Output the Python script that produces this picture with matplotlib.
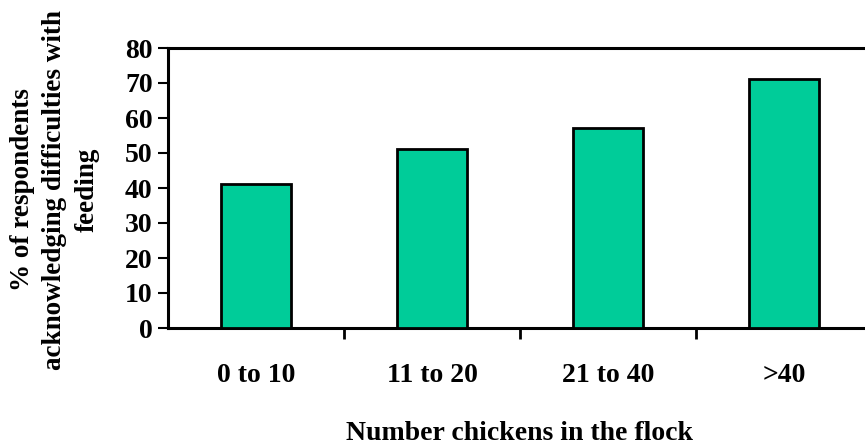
import matplotlib
matplotlib.use("Agg")
import matplotlib.pyplot as plt

categories = ["0 to 10", "11 to 20", "21 to 40", ">40"]
percent_difficulties = [41, 51, 57, 71]
y_ticks = [0, 10, 20, 30, 40, 50, 60, 70, 80]

plt.rcParams["font.family"] = ["Liberation Serif", "DejaVu Serif"]
plt.rcParams["font.weight"] = "bold"

W, H = 865, 444
fig = plt.figure(figsize=(W / 100, H / 100), dpi=100)
# plot area runs past the right edge of the figure
ax = fig.add_axes([168 / W, (H - 328) / H, 704 / W, 280 / H])

x = list(range(len(categories)))
ax.bar(x, percent_difficulties, width=0.4, color="#00CC99",
       edgecolor="black", linewidth=2, zorder=3)

ax.set_xlim(-0.5, len(categories) - 0.5)
ax.set_ylim(0, 80)
ax.set_yticks(y_ticks)
ax.set_yticklabels([str(v) for v in y_ticks], fontsize=20, fontweight="bold")

# category boundaries carry the ticks; labels sit in between
ax.set_xticks([i + 0.5 for i in x[:-1]])
ax.set_xticklabels([])
ax.set_xticks(x, minor=True)
ax.set_xticklabels(categories, minor=True, fontsize=20, fontweight="bold")
ax.tick_params(axis="x", which="minor", length=0, pad=25)
ax.tick_params(axis="x", which="major", direction="out", length=8, width=2)
ax.tick_params(axis="y", direction="out", length=7, width=1.5, pad=4)

for side in ["left", "bottom", "top"]:
    ax.spines[side].set_linewidth(2.2)
ax.spines["right"].set_visible(False)

fig.text(520 / W, 1 - 433 / H, "Number chickens in the flock",
         fontsize=20, fontweight="bold", ha="center", va="center")
fig.text(55 / W, 1 - 190 / H,
         "% of respondents\nacknowledging difficulties with\nfeeding",
         fontsize=19.5, fontweight="bold", rotation=90, ha="center",
         va="center", multialignment="center", linespacing=1.4)

fig.savefig("out.png", dpi=100)
